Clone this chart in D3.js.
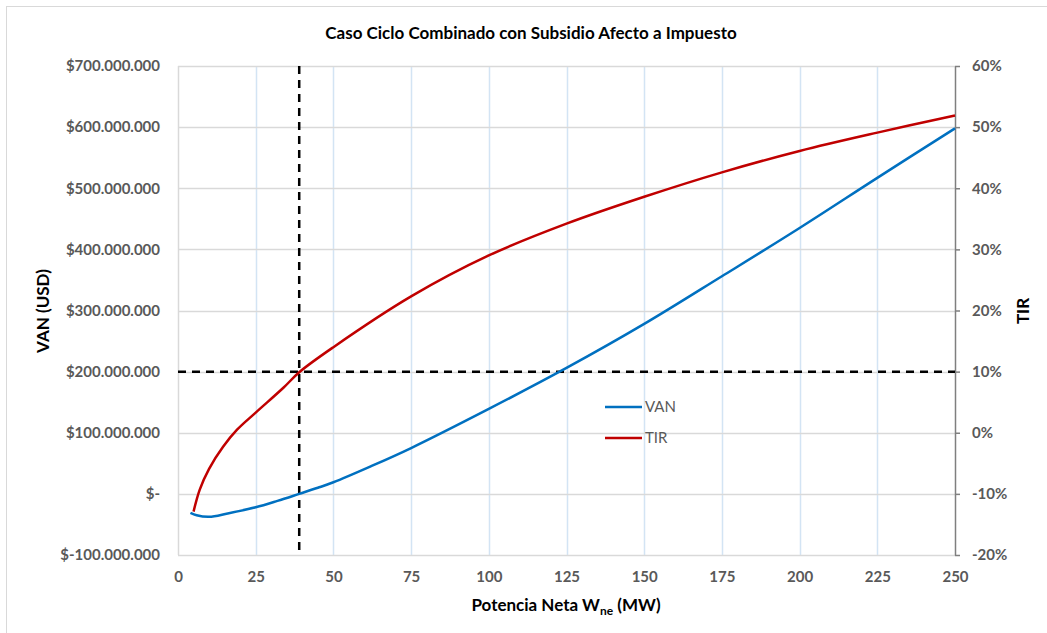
<!DOCTYPE html>
<html>
<head>
<meta charset="utf-8">
<script src="https://cdn.jsdelivr.net/npm/d3@7"></script>
<style>
  body { margin: 0; background: #fff; }
  text { font-family: Lato, "Open Sans", sans-serif; }
</style>
</head>
<body>
<script>
// Data
var vanX = [4, 6, 10, 16, 25, 32, 39, 45, 50, 62, 75, 100, 125, 150, 175, 200, 225, 250];
var vanY = [-31e6, -35e6, -37.5e6, -32e6, -22e6, -11.5e6, 0, 10e6, 19e6, 45e6, 75e6, 139e6, 206e6, 278e6, 356e6, 435e6, 517e6, 598e6];

var tirX = [5, 7, 10, 14.5, 19, 25, 34, 39, 50, 75, 100, 125, 150, 175, 200, 225, 250];
var tirY = [-12.9, -9.3, -5.9, -2.3, 0.5, 3.3, 7.4, 9.9, 14, 22.3, 29, 34.2, 38.6, 42.6, 46.1, 49.1, 51.9];

var xTicks = [0, 25, 50, 75, 100, 125, 150, 175, 200, 225, 250];
var vanTicks = [-100e6, 0, 100e6, 200e6, 300e6, 400e6, 500e6, 600e6, 700e6];
var tirTicks = [-20, -10, 0, 10, 20, 30, 40, 50, 60];

var refX = 39;        // vertical dashed line (MW)
var refVan = 200e6;   // horizontal dashed line

function setupChart() {
  var svgWidth = 1047;
  var svgHeight = 633;
  var margin = { top: 66, right: 92, bottom: 78, left: 178 };
  var chartWidth = svgWidth - margin.left - margin.right;
  var chartHeight = svgHeight - margin.top - margin.bottom;

  var svg = d3.select("body").append("svg")
    .attr("width", svgWidth)
    .attr("height", svgHeight);

  // outer chart border
  svg.append("rect")
    .attr("x", 6.5).attr("y", 6.5)
    .attr("width", svgWidth + 20).attr("height", svgHeight + 20)
    .attr("fill", "none").attr("stroke", "#d9d9d9");

  var chartGroup = svg.append("g")
    .attr("transform", `translate(${margin.left}, ${margin.top})`);

  return { svg, chartGroup, chartWidth, chartHeight, margin };
}

function vanFormat(v) {
  if (v === 0) return "$-";
  var s = d3.format(",")(Math.abs(v)).replace(/,/g, ".");
  return v < 0 ? "$-" + s : "$" + s;
}

function main() {
  var { svg, chartGroup, chartWidth, chartHeight, margin } = setupChart();
  var grey = "#595959";

  var xScale = d3.scaleLinear().domain([0, 250]).range([0, chartWidth]);
  var yScale = d3.scaleLinear().domain([-100e6, 700e6]).range([chartHeight, 0]);
  var y2Scale = d3.scaleLinear().domain([-20, 60]).range([chartHeight, 0]);

  // vertical grid (light blue)
  chartGroup.append("g").selectAll("line")
    .data(xTicks.slice(1, -1))
    .enter().append("line")
    .attr("x1", d => Math.round(xScale(d)) + 0.5)
    .attr("x2", d => Math.round(xScale(d)) + 0.5)
    .attr("y1", 0).attr("y2", chartHeight)
    .attr("stroke", "#d3e4f4").attr("stroke-width", 1.5);

  // horizontal grid (grey)
  chartGroup.append("g").selectAll("line")
    .data(vanTicks)
    .enter().append("line")
    .attr("x1", 0).attr("x2", chartWidth)
    .attr("y1", d => Math.round(yScale(d)) + 0.5)
    .attr("y2", d => Math.round(yScale(d)) + 0.5)
    .attr("stroke", "#d9d9d9").attr("stroke-width", 1.5);

  // left edge of plot
  chartGroup.append("line")
    .attr("x1", 0.5).attr("x2", 0.5).attr("y1", 0).attr("y2", chartHeight)
    .attr("stroke", "#d9d9d9").attr("stroke-width", 1.5);

  // left axis labels
  var leftAxis = d3.axisLeft(yScale).tickValues(vanTicks).tickFormat(vanFormat)
    .tickSize(0).tickPadding(18);
  var yAxis = chartGroup.append("g").call(leftAxis);
  yAxis.select(".domain").remove();
  yAxis.selectAll("text")
    .attr("fill", grey).style("font-size", "15px").style("font-weight", "bold");

  // right axis
  var rightAxis = d3.axisRight(y2Scale).tickValues(tirTicks).tickFormat(d => d + "%")
    .tickSizeInner(5).tickSizeOuter(0).tickPadding(12);
  var y2Axis = chartGroup.append("g")
    .attr("transform", `translate(${chartWidth}, 0)`)
    .call(rightAxis);
  y2Axis.select(".domain").attr("stroke", "#7f7f7f").attr("stroke-width", 1.5);
  y2Axis.selectAll("line").attr("stroke", "#7f7f7f").attr("stroke-width", 1.5);
  y2Axis.selectAll("text")
    .attr("fill", grey).style("font-size", "15px").style("font-weight", "bold");

  // bottom axis
  var bottomAxis = d3.axisBottom(xScale).tickValues(xTicks).tickSize(0).tickPadding(16);
  var xAxis = chartGroup.append("g")
    .attr("transform", `translate(0, ${chartHeight})`)
    .call(bottomAxis);
  xAxis.select(".domain").remove();
  xAxis.selectAll("text")
    .attr("fill", grey).style("font-size", "15px").style("font-weight", "bold");

  // dashed reference lines
  chartGroup.append("line")
    .attr("x1", xScale(refX)).attr("x2", xScale(refX))
    .attr("y1", 0).attr("y2", chartHeight)
    .attr("stroke", "#000").attr("stroke-width", 2.5).attr("stroke-dasharray", "8,6");
  chartGroup.append("line")
    .attr("x1", 0).attr("x2", chartWidth)
    .attr("y1", yScale(refVan)).attr("y2", yScale(refVan))
    .attr("stroke", "#000").attr("stroke-width", 2.5).attr("stroke-dasharray", "8,6");

  // lines
  var vanLine = d3.line()
    .x((d, i) => xScale(vanX[i]))
    .y(d => yScale(d))
    .curve(d3.curveCatmullRom.alpha(0.5));
  var tirLine = d3.line()
    .x((d, i) => xScale(tirX[i]))
    .y(d => y2Scale(d))
    .curve(d3.curveCatmullRom.alpha(0.5));

  chartGroup.append("path").datum(vanY)
    .attr("d", vanLine).attr("fill", "none")
    .attr("stroke", "#0070c0").attr("stroke-width", 2.5);
  chartGroup.append("path").datum(tirY)
    .attr("d", tirLine).attr("fill", "none")
    .attr("stroke", "#c00000").attr("stroke-width", 2.5);

  // legend
  var legend = svg.append("g");
  [["VAN", "#0070c0", 407], ["TIR", "#c00000", 438]].forEach(function (l) {
    legend.append("line")
      .attr("x1", 605).attr("x2", 642).attr("y1", l[2]).attr("y2", l[2])
      .attr("stroke", l[1]).attr("stroke-width", 2.5);
    legend.append("text")
      .attr("x", 645).attr("y", l[2] + 5)
      .attr("fill", grey).style("font-size", "15px")
      .text(l[0]);
  });

  // title
  svg.append("text")
    .attr("x", 531).attr("y", 39)
    .attr("text-anchor", "middle")
    .style("font-size", "17px").style("font-weight", "bold").attr("fill", "#000")
    .text("Caso Ciclo Combinado con Subsidio Afecto a Impuesto");

  // axis titles
  var xt = svg.append("text")
    .attr("x", 566).attr("y", 611)
    .attr("text-anchor", "middle")
    .style("font-size", "17px").style("font-weight", "bold").attr("fill", "#000");
  xt.append("tspan").text("Potencia Neta W");
  xt.append("tspan").text("ne").attr("dy", 4).style("font-size", "12px");
  xt.append("tspan").text(" (MW)").attr("dy", -4);

  svg.append("text")
    .attr("transform", "translate(49, 311) rotate(-90)")
    .attr("text-anchor", "middle")
    .style("font-size", "17px").style("font-weight", "bold").attr("fill", "#000")
    .text("VAN (USD)");

  svg.append("text")
    .attr("transform", "translate(1029, 311) rotate(-90)")
    .attr("text-anchor", "middle")
    .style("font-size", "17px").style("font-weight", "bold").attr("fill", "#000")
    .text("TIR");
}

main();
</script>
</body>
</html>
